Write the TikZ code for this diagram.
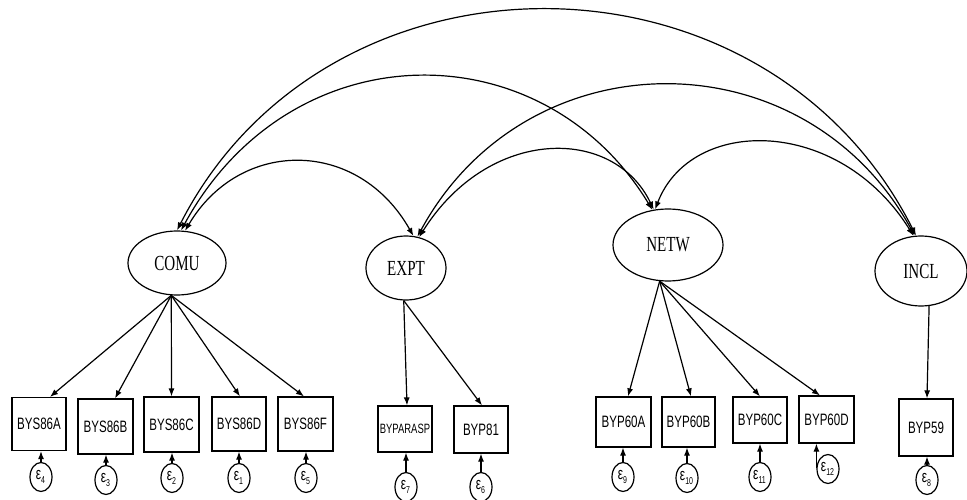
\documentclass[tikz,border=0pt]{standalone}
\usepackage{fontspec}
\setmainfont{Liberation Serif}
\newfontfamily\latentfont[FakeStretch=0.7]{Liberation Serif}
\newfontfamily\obsfont[FakeStretch=0.7]{Liberation Sans}
\usetikzlibrary{shapes.geometric,arrows.meta}

\tikzset{
  latent/.style={draw, ellipse, line width=1.2pt, inner sep=0pt,
    font=\latentfont\fontsize{21.5}{21.5}\selectfont},
  obs/.style={draw, rectangle, line width=1.2pt, inner sep=0pt,
    font=\obsfont\fontsize{16.5}{16.5}\selectfont},
  err/.style={draw, ellipse, line width=1.2pt, inner sep=0pt,
    minimum width=22pt, minimum height=29pt,
    font=\obsfont\fontsize{17}{17}\selectfont},
  load/.style={line width=1.2pt, -{Latex[length=8pt,width=6pt]}},
  cov/.style={line width=1.2pt, {Latex[length=8pt,width=6pt]}-{Latex[length=8pt,width=6pt]}}
}
\newcommand{\epslab}[1]{\hspace*{-1pt}ε\raisebox{-3.5pt}{\fontsize{10}{10}\selectfont #1}}

\begin{document}
\begin{tikzpicture}[x=1pt,y=-1pt]
\useasboundingbox (0,0) rectangle (967,500);

% latent variables
\node[latent, minimum width=98pt, minimum height=64pt] (comu) at (177,263) {COMU};
\node[latent, minimum width=80pt, minimum height=64pt] (expt) at (406,268) {EXPT};
\node[latent, minimum width=110pt, minimum height=72pt] (netw) at (668,245) {NETW};
\node[latent, minimum width=92pt, minimum height=70pt] (incl) at (921,271) {INCL};

% observed indicators
\node[obs, minimum width=54pt, minimum height=53pt] (bysa) at (39,424) {BYS86A};
\node[obs, minimum width=55pt, minimum height=55pt] (bysb) at (105.5,426.5) {BYS86B};
\node[obs, minimum width=55pt, minimum height=55pt] (bysc) at (171.5,424.5) {BYS86C};
\node[obs, minimum width=54pt, minimum height=54pt] (bysd) at (239,424) {BYS86D};
\node[obs, minimum width=55pt, minimum height=54pt] (bysf) at (305.5,424) {BYS86F};
\node[obs, minimum width=54pt, minimum height=46pt, font=\obsfont\fontsize{13.5}{13.5}\selectfont] (bypar) at (405,429) {BYPARASP};
\node[obs, minimum width=54pt, minimum height=47pt] (byp81) at (481,429.5) {BYP81};
\node[obs, minimum width=55pt, minimum height=50pt] (p60a) at (623.5,422) {BYP60A};
\node[obs, minimum width=53pt, minimum height=50pt] (p60b) at (688.5,422) {BYP60B};
\node[obs, minimum width=54pt, minimum height=46pt] (p60c) at (760,420) {BYP60C};
\node[obs, minimum width=55pt, minimum height=47pt] (p60d) at (826.5,419.5) {BYP60D};
\node[obs, minimum width=54pt, minimum height=57pt] (p59) at (926,427.5) {BYP59};

% error terms
\node[err] (e4) at (41,477) {\epslab{4}};
\node[err] (e3) at (106,480) {\epslab{3}};
\node[err] (e2) at (172,478) {\epslab{2}};
\node[err] (e1) at (239,478) {\epslab{1}};
\node[err] (e5) at (306,478) {\epslab{5}};
\node[err] (e7) at (406,487) {\epslab{7}};
\node[err] (e6) at (481,487) {\epslab{6}};
\node[err] (e9) at (623,477) {\epslab{9}};
\node[err] (e10) at (687,478) {\epslab{10}};
\node[err] (e11) at (760,477) {\epslab{11}};
\node[err] (e12) at (828,469) {\epslab{12}};
\node[err] (e8) at (927,480) {\epslab{8}};

% factor loadings
\draw[load] (comu.-100) -- ([xshift=11pt]bysa.north);
\draw[load] (comu.-100) -- ([xshift=9.5pt]bysb.north);
\draw[load] (comu.-100) -- (bysc.north);
\draw[load] (comu.-100) -- ([xshift=1pt]bysd.north);
\draw[load] (comu.-100) -- ([xshift=-1.5pt]bysf.north);
\draw[load] (expt.-94) -- ([xshift=2pt]bypar.north);
\draw[load] (expt.-94) -- ([xshift=1pt]byp81.north);
\draw[load] (netw.-103) -- ([xshift=4.5pt]p60a.north);
\draw[load] (netw.-103) -- ([xshift=2.5pt]p60b.north);
\draw[load] (netw.-103) -- (p60c.north);
\draw[load] (netw.-103) -- ([xshift=-6.5pt]p60d.north);
\draw[load] (incl.-77) -- ([xshift=1pt]p59.north);

% error paths
\foreach \e/\b in {e4/bysa,e3/bysb,e2/bysc,e1/bysd,e5/bysf,e7/bypar,e6/byp81,
                   e9/p60a,e10/p60b,e11/p60c,e8/p59}
  \draw[load] (\e.north) -- (\e.north |- \b.south);
\draw[load] (e12.175) -- (e12.175 |- p60d.south);

% covariances between latent variables
\draw[cov] (comu.90) .. controls (327,-64) and (765,-64) .. (incl.98);
\draw[cov] (comu.83) .. controls (291,29) and (543,29) .. (netw.114);
\draw[cov] (expt.70) .. controls (527,35) and (805,35) .. (incl.100);
\draw[cov] (comu.76) .. controls (240,138) and (358,138) .. (expt.77);
\draw[cov] (expt.67) .. controls (489,126) and (614,126) .. (netw.112);
\draw[cov] (netw.110) .. controls (691,116) and (839,116) .. (incl.102);
\end{tikzpicture}
\end{document}
